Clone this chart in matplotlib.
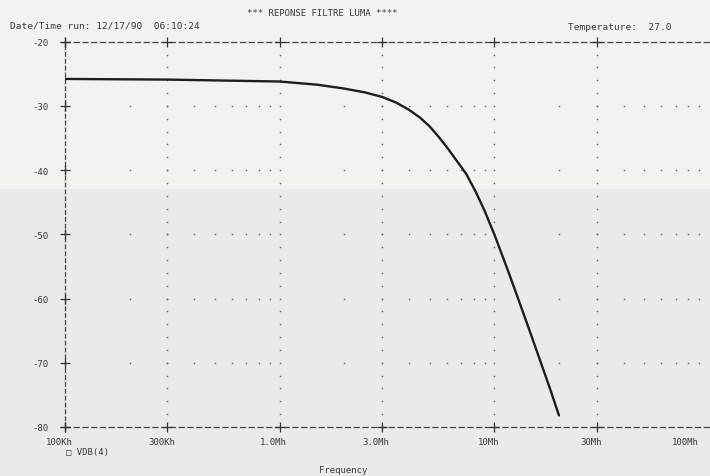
import numpy as np
import matplotlib
matplotlib.use("Agg")
import matplotlib.pyplot as plt
from matplotlib.patches import Rectangle
from matplotlib.transforms import ScaledTranslation

# ---- data ----
freq_hz = [1e5, 3e5, 1e6, 1.5e6, 2e6, 2.5e6, 3e6, 3.5e6, 4.0e6, 4.5e6, 5.0e6, 5.5e6,
           6.0e6, 6.7e6, 7.4e6, 8.2e6, 9.0e6, 10e6, 11.5e6, 13e6, 14.6e6, 16.4e6,
           18.2e6, 20e6]
vdb = [-25.8, -25.9, -26.2, -26.7, -27.3, -27.9, -28.6, -29.5, -30.6, -31.8, -33.2, -34.8,
       -36.4, -38.6, -40.6, -43.4, -46.3, -50.0, -55.4, -60.3, -65.0, -69.8,
       -74.1, -78.2]

x_ticks = [1e5, 3e5, 1e6, 3e6, 1e7, 3e7, 1e8]
x_labels = ["100Kh", "300Kh", "1.0Mh", "3.0Mh", "10Mh", "30Mh", "100Mh"]
y_ticks = [-20, -30, -40, -50, -60, -70, -80]
y_labels = ["-20", "-30", "-40", "-50", "-60", "-70", "-80"]

title_text = "*** REPONSE FILTRE LUMA ****"
date_text = "Date/Time run: 12/17/90  06:10:24"
temp_text = "Temperature:  27.0"
trace_name = "VDB(4)"
xlabel_text = "Frequency"

W, H = 710, 477
fig = plt.figure(figsize=(W / 100, H / 100), dpi=100)
fig.patch.set_facecolor("#f3f2ef")
fig.patches.append(Rectangle((0, 0), 1, 1 - 190 / H, transform=fig.transFigure,
                             facecolor="#e7ebee", edgecolor="none", zorder=-10))

left, right = 65 / W, 709 / W
top, bottom = 1 - 42.7 / H, 1 - 428 / H
ax = fig.add_axes([left, bottom, right - left, top - bottom])
ax.set_facecolor("none")
ax.set_xscale("log")
ax.set_xlim(1e5, 1e8)
ax.set_ylim(-80, -20)

mono = ["DejaVu Sans Mono", "DejaVu Sans"]
txt_col = "#3a3a3a"
grid_col = "#707070"

# spines
ax.spines["right"].set_visible(False)
for s in ["top", "bottom"]:
    ax.spines[s].set_linestyle((0, (4.0, 3.0)))
    ax.spines[s].set_linewidth(0.9)
    ax.spines[s].set_color("#444444")
ax.spines["left"].set_linestyle((0, (3.0, 2.5)))
ax.spines["left"].set_linewidth(0.9)
ax.spines["left"].set_color("#444444")

# ticks
ax.set_xticks(x_ticks)
ax.set_xticklabels(x_labels)
ax.xaxis.set_minor_locator(matplotlib.ticker.NullLocator())
ax.set_yticks(y_ticks)
ax.set_yticklabels(y_labels)
ax.tick_params(axis="both", length=0, colors=txt_col, labelsize=6.5)
ax.tick_params(axis="x", pad=7)
ax.tick_params(axis="y", pad=12)
for lab in ax.get_xticklabels() + ax.get_yticklabels():
    lab.set_fontfamily(mono)
xlabs = ax.get_xticklabels()
for i, lab in enumerate(xlabs):
    if i == len(xlabs) - 1:
        lab.set_horizontalalignment("right")
        lab.set_transform(lab.get_transform() + ScaledTranslation(-10 / 100, 0, fig.dpi_scale_trans))
    else:
        lab.set_transform(lab.get_transform() + ScaledTranslation(-6 / 100, 0, fig.dpi_scale_trans))

# plus-sign tick marks
plus_kw = dict(marker="+", markersize=7.5, markeredgewidth=0.9, color="#333333",
               linestyle="none", clip_on=False, zorder=4)
ax.plot(x_ticks[:-1], [y_ticks[0]] * (len(x_ticks) - 1), **plus_kw)
ax.plot(x_ticks[:-1], [y_ticks[-1]] * (len(x_ticks) - 1), **plus_kw)
ax.plot([x_ticks[0]] * len(y_ticks), y_ticks, **plus_kw)

# dotted grid: columns at major x, dots every 2 dB; rows at major y, dots at log minor positions
col_x, col_y = [], []
for xv in x_ticks[1:-1]:
    for yv in np.arange(y_ticks[-1] + 2, y_ticks[0], 2):
        col_x.append(xv)
        col_y.append(yv)
row_x, row_y = [], []
for yv in y_ticks[1:-1]:
    for dec in [1e5, 1e6, 1e7]:
        for n in range(2, 10):
            row_x.append(n * dec)
            row_y.append(yv)
ax.scatter(col_x, col_y, s=1.5, color=grid_col, linewidths=0, zorder=2)
ax.scatter(row_x, row_y, s=1.5, color=grid_col, linewidths=0, zorder=2)

# trace
ax.plot(freq_hz, vdb, color="#1e1e1e", linewidth=1.7, solid_capstyle="round",
        solid_joinstyle="round", zorder=3)

# x label
fig.text(343 / W, 1 - 471 / H, xlabel_text, ha="center", va="center",
         fontsize=6.5, color=txt_col, family=mono)

# header texts
fig.text(322 / W, 1 - 14 / H, title_text, ha="center", va="center",
         fontsize=6.5, color=txt_col, family=mono)
fig.text(10 / W, 1 - 26 / H, date_text, ha="left", va="center",
         fontsize=6.8, color=txt_col, family=mono)
fig.text(568 / W, 1 - 27 / H, temp_text, ha="left", va="center",
         fontsize=6.8, color=txt_col, family=mono)
fig.text(66 / W, 1 - 453 / H, "\u25a1 " + trace_name, ha="left", va="center",
         fontsize=6.5, color=txt_col, family=mono)

fig.savefig("out.png", dpi=100, facecolor=fig.get_facecolor())
